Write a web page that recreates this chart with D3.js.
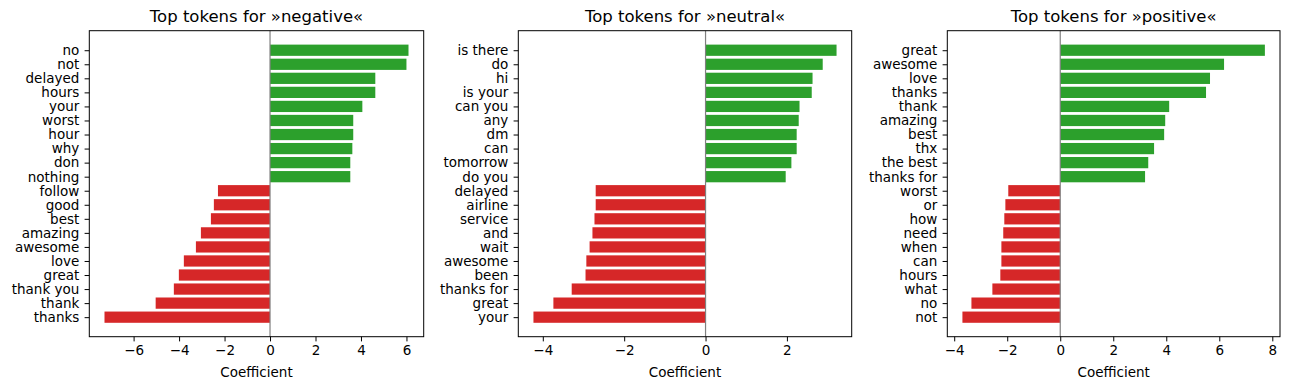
<!DOCTYPE html>
<html>
<head>
<meta charset="utf-8">
<script src="https://cdn.jsdelivr.net/npm/d3@7"></script>
<style>
  body { margin: 0; background: #fff; }
  text { font-family: "DejaVu Sans", sans-serif; fill: #000; }
</style>
</head>
<body>
<div id="chart"></div>
<script>
// Tokens listed top to bottom, with their coefficients
var negTokens = ["no", "not", "delayed", "hours", "your", "worst", "hour", "why", "don", "nothing",
    "follow", "good", "best", "amazing", "awesome", "love", "great", "thank you", "thank", "thanks"];
var negValues = [6.09, 6.0, 4.63, 4.63, 4.06, 3.66, 3.66, 3.62, 3.53, 3.53,
    -2.29, -2.47, -2.60, -3.04, -3.26, -3.79, -4.01, -4.23, -5.03, -7.28];

var neuTokens = ["is there", "do", "hi", "is your", "can you", "any", "dm", "can", "tomorrow", "do you",
    "delayed", "airline", "service", "and", "wait", "awesome", "been", "thanks for", "great", "your"];
var neuValues = [3.22, 2.88, 2.63, 2.61, 2.31, 2.29, 2.24, 2.24, 2.11, 1.97,
    -2.70, -2.70, -2.73, -2.78, -2.85, -2.93, -2.95, -3.29, -3.74, -4.23];

var posTokens = ["great", "awesome", "love", "thanks", "thank", "amazing", "best", "thx", "the best", "thanks for",
    "worst", "or", "how", "need", "when", "can", "hours", "what", "no", "not"];
var posValues = [7.72, 6.18, 5.65, 5.50, 4.11, 3.96, 3.92, 3.54, 3.32, 3.20,
    -1.96, -2.07, -2.11, -2.15, -2.22, -2.22, -2.26, -2.56, -3.35, -3.69];

var negTicks = [-6, -4, -2, 0, 2, 4, 6];
var neuTicks = [-4, -2, 0, 2];
var posTicks = [-4, -2, 0, 2, 4, 6, 8];

var W = 1289, H = 390;
var top_ = 30.7, bottom_ = 336.7;
var tickFont = "13.5px", titleFont = "16.5px";

var svg = d3.select("#chart").append("svg")
    .attr("width", W)
    .attr("height", H);

function panel(title, tokens, values, ticks, left, right) {
    var n = tokens.length;
    var g = svg.append("g");

    // matplotlib-style 5% margins
    var lo = Math.min(0, d3.min(values)), hi = Math.max(0, d3.max(values));
    var pad = (hi - lo) * 0.05;
    var x = d3.scaleLinear().domain([lo - pad, hi + pad]).range([left, right]);

    var ypad = (n - 1 + 0.8) * 0.05;
    var y = d3.scaleLinear().domain([-0.4 - ypad, n - 1 + 0.4 + ypad]).range([bottom_, top_]);

    // bars
    g.selectAll("rect.bar")
        .data(values)
        .enter()
        .append("rect")
        .attr("class", "bar")
        .attr("x", function (d) { return x(Math.min(0, d)); })
        .attr("width", function (d) { return Math.abs(x(d) - x(0)); })
        .attr("y", function (d, i) { return y(n - 1 - i + 0.4); })
        .attr("height", function (d, i) { return y(n - 1 - i - 0.4) - y(n - 1 - i + 0.4); })
        .style("fill", function (d) { return d >= 0 ? "#2ca02c" : "#d62728"; });

    // zero line
    g.append("line")
        .attr("x1", x(0)).attr("x2", x(0))
        .attr("y1", top_).attr("y2", bottom_)
        .style("stroke", "#808080")
        .style("stroke-width", 1.2);

    // frame
    g.append("rect")
        .attr("x", left).attr("y", top_)
        .attr("width", right - left).attr("height", bottom_ - top_)
        .style("fill", "none")
        .style("stroke", "#000")
        .style("stroke-width", 1);

    // x axis
    var xAxis = d3.axisBottom(x).tickValues(ticks).tickSize(4.7).tickPadding(4)
        .tickFormat(d3.format("d"));
    var ax = g.append("g")
        .attr("transform", "translate(0," + bottom_ + ")")
        .call(xAxis);
    ax.select(".domain").remove();
    ax.selectAll("text").style("font-size", tickFont).style("font-family", "DejaVu Sans");

    // y axis
    var yAxis = d3.axisLeft(y)
        .tickValues(d3.range(n))
        .tickFormat(function (k) { return tokens[n - 1 - k]; })
        .tickSize(4.7).tickPadding(5.3);
    var ay = g.append("g")
        .attr("transform", "translate(" + left + ",0)")
        .call(yAxis);
    ay.select(".domain").remove();
    ay.selectAll("text").style("font-size", tickFont).style("font-family", "DejaVu Sans");

    // title
    g.append("text")
        .attr("x", (left + right) / 2)
        .attr("y", 22)
        .style("text-anchor", "middle")
        .style("font-size", titleFont)
        .text(title);

    // x label
    g.append("text")
        .attr("x", (left + right) / 2)
        .attr("y", 377)
        .style("text-anchor", "middle")
        .style("font-size", tickFont)
        .text("Coefficient");
}

panel("Top tokens for \u00bbnegative\u00ab", negTokens, negValues, negTicks, 89.3, 423.7);
panel("Top tokens for \u00bbneutral\u00ab", neuTokens, neuValues, neuTicks, 518.3, 851.7);
panel("Top tokens for \u00bbpositive\u00ab", posTokens, posValues, posTicks, 947.3, 1280);
</script>
</body>
</html>
